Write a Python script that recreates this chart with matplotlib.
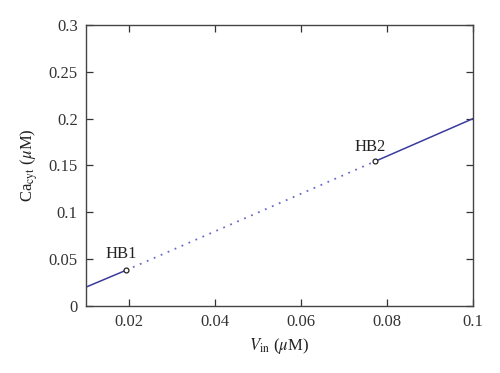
import numpy as np
import matplotlib
matplotlib.use('Agg')
import matplotlib.pyplot as plt

plt.rcParams['font.family'] = ['Liberation Serif', 'DejaVu Serif']
plt.rcParams['mathtext.fontset'] = 'stix'

# branch pieces (stable solid / unstable dotted)
x_stable1 = [0.01, 0.0193]
y_stable1 = [0.020, 0.0380]
x_unstable = [0.0193, 0.0773]
y_unstable = [0.0380, 0.1545]
x_stable2 = [0.0773, 0.1]
y_stable2 = [0.1545, 0.200]

hb_x = [0.0193, 0.0773]
hb_y = [0.0380, 0.1545]
hb_names = ['HB1', 'HB2']

xticks = [0.02, 0.04, 0.06, 0.08, 0.1]
yticks = [0, 0.05, 0.1, 0.15, 0.2, 0.25, 0.3]

fig = plt.figure(figsize=(5, 3.73), dpi=100)
ax = fig.add_axes([0.172, 0.180, 0.774, 0.753])

line_col = '#3b3b9c'
ax.plot(x_stable1, y_stable1, color=line_col, lw=1.1)
ax.plot(x_unstable, y_unstable, color='#6a6ac8', lw=1.3, ls=(0, (1, 3.2)))
ax.plot(x_stable2, y_stable2, color=line_col, lw=1.1)
ax.plot(hb_x, hb_y, 'o', ms=3.5, mfc='white', mec='#222222', mew=0.9)

ax.text(hb_x[0] - 0.0012, hb_y[0] + 0.009, hb_names[0], fontsize=12, color='#222222', ha='center', va='bottom')
ax.text(hb_x[1] - 0.0012, hb_y[1] + 0.007, hb_names[1], fontsize=12, color='#222222', ha='center', va='bottom')

ax.set_xlim(0.01, 0.1)
ax.set_ylim(0, 0.3)
ax.set_xticks(xticks)
ax.set_xticklabels(['0.02', '0.04', '0.06', '0.08', '0.1'])
ax.set_yticks(yticks)
ax.set_yticklabels(['0', '0.05', '0.1', '0.15', '0.2', '0.25', '0.3'])
ax.tick_params(direction='in', top=True, right=True, length=5, width=0.9,
               labelsize=12, colors='#333333', pad=6)
for s in ax.spines.values():
    s.set_linewidth(1.0)
    s.set_color('#444444')

ax.set_xlabel(r'$V_{\rm in}$ ($\mu$M)', fontsize=12, color='#222222', labelpad=4)
ax.set_ylabel(r'Ca$_{\rm cyt}$ ($\mu$M)', fontsize=12, color='#222222', labelpad=6)

fig.savefig('out.png', dpi=100)
